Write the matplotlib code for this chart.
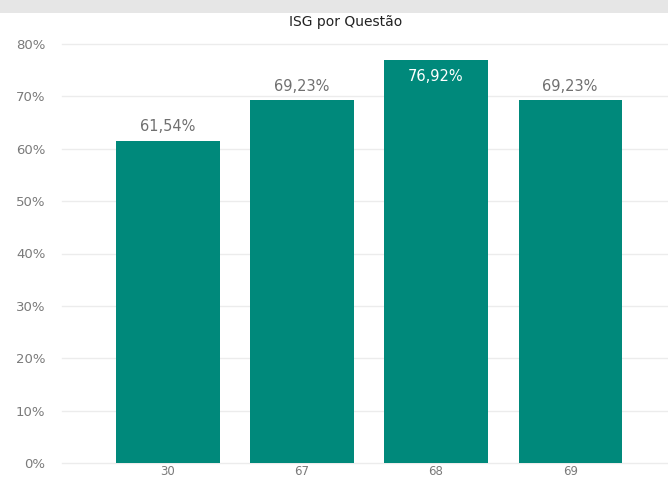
import matplotlib.pyplot as plt
from matplotlib.patches import Rectangle

# dados do gráfico
questoes = ['30', '67', '68', '69']
isg = [0.6154, 0.6923, 0.7692, 0.6923]
rotulos = ['61,54%', '69,23%', '76,92%', '69,23%']
ticks_y = [0, 0.1, 0.2, 0.3, 0.4, 0.5, 0.6, 0.7, 0.8]
ticks_y_txt = ['0%', '10%', '20%', '30%', '40%', '50%', '60%', '70%', '80%']

plt.rcParams['font.family'] = ['DejaVu Sans']

W, H = 668, 479
fig = plt.figure(figsize=(W / 100, H / 100), dpi=100)
fig.patch.set_facecolor('white')
# faixa cinza no topo
fig.patches.append(Rectangle((0, (H - 13) / H), 1, 13 / H, transform=fig.transFigure,
                             facecolor='#e6e6e6', edgecolor='none', zorder=0))

ax = fig.add_axes([62 / W, 16 / H, (W - 62) / W, (463 - 44) / H])
x = list(range(len(questoes)))
ax.bar(x, isg, width=0.77, color='#00897b', zorder=2)

ax.set_xlim(-0.79, 3.73)
ax.set_ylim(0, 0.8)
ax.set_yticks(ticks_y)
ax.set_yticklabels(ticks_y_txt)
ax.set_xticks(x)
ax.set_xticklabels(questoes)
ax.tick_params(axis='both', length=0, labelsize=9.5, colors='#7a7a7a')
ax.tick_params(axis='y', pad=12)
ax.tick_params(axis='x', pad=1.5, labelsize=8.5)
for v in ticks_y:
    ax.axhline(v, color='#ececec', lw=1, zorder=1, clip_on=False)
for s in ax.spines.values():
    s.set_visible(False)

for xi, v, txt in zip(x, isg, rotulos):
    if v > 0.75:
        ax.annotate(txt, (xi, v), xytext=(0, -12), textcoords='offset points',
                    ha='center', va='center', fontsize=10.5, color='white')
    else:
        ax.annotate(txt, (xi, v), xytext=(0, 10), textcoords='offset points',
                    ha='center', va='center', fontsize=10.5, color='#707070')

fig.text(346 / W, 1 - 22 / H, 'ISG por Questão', ha='center', va='center',
         fontsize=10, color='#222222')

fig.savefig('out.png', dpi=100)
